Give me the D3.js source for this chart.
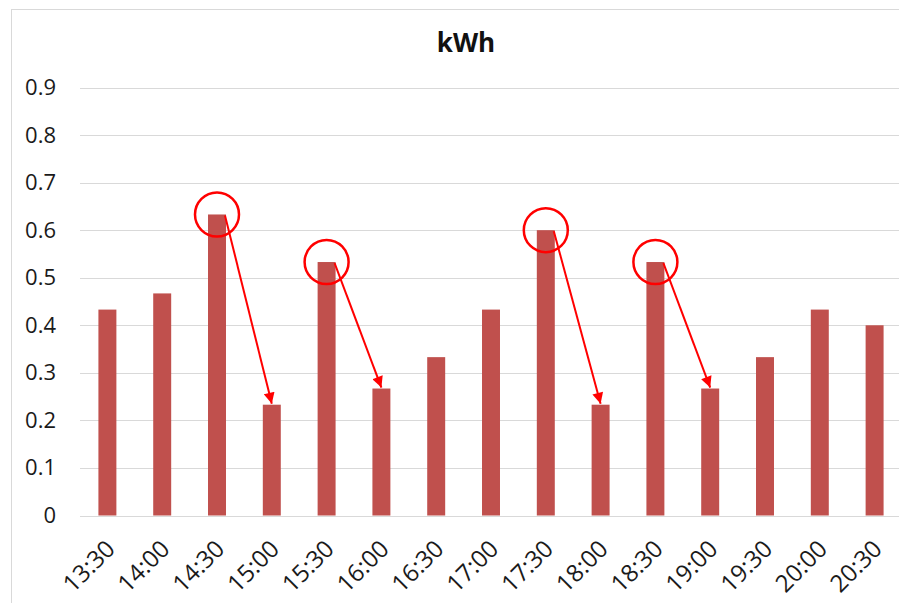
<!DOCTYPE html>
<html>
<head>
<meta charset="utf-8">
<script src="https://cdn.jsdelivr.net/npm/d3@7"></script>
<style>
  html, body { margin: 0; padding: 0; background: #fff; }
  svg { display: block; }
</style>
</head>
<body>
<svg id="chart" width="899" height="603"></svg>
<script>
// Half-hourly energy use
const times = ["13:30","14:00","14:30","15:00","15:30","16:00","16:30","17:00",
               "17:30","18:00","18:30","19:00","19:30","20:00","20:30"];
const kwh = [0.433, 0.467, 0.633, 0.233, 0.533, 0.267, 0.333, 0.433,
             0.6, 0.233, 0.533, 0.267, 0.333, 0.433, 0.4];
const yTicks = [0, 0.1, 0.2, 0.3, 0.4, 0.5, 0.6, 0.7, 0.8, 0.9];
// Peaks that are circled, each followed by an arrow to the drop after it
const peaks = ["14:30", "15:30", "17:30", "18:30"];
const drops = ["15:00", "16:00", "18:00", "19:00"];

const FONT = "'Open Sans', 'Noto Sans', sans-serif";
const svg = d3.select("#chart");

// chart frame
svg.append("rect")
  .attr("x", 11.5).attr("y", 9.5)
  .attr("width", 920).attr("height", 620)
  .attr("fill", "#fff").attr("stroke", "#d9d9d9").attr("stroke-width", 1);

const x = d3.scaleBand().domain(times).range([80, 902])
  .paddingInner(0.672).paddingOuter(0.336);
const y = d3.scaleLinear().domain([0, 0.9]).range([515.5, 87.5]);

// horizontal gridlines
svg.append("g")
  .selectAll("line").data(yTicks).join("line")
  .attr("x1", 80).attr("x2", 902)
  .attr("y1", d => Math.round(y(d)) + 0.5).attr("y2", d => Math.round(y(d)) + 0.5)
  .attr("stroke", "#d9d9d9").attr("stroke-width", 1);

// y axis labels
const yAxis = svg.append("g")
  .attr("transform", "translate(80,0)")
  .call(d3.axisLeft(y).tickValues(yTicks).tickSize(0).tickPadding(24)
    .tickFormat(d => d === 0 ? "0" : d3.format(".1f")(d)));
yAxis.select(".domain").remove();
yAxis.selectAll("text")
  .attr("font-family", FONT).attr("font-size", 22).attr("fill", "#1a1a1a");

// bars
svg.append("g")
  .selectAll("rect").data(times).join("rect")
  .attr("x", d => x(d))
  .attr("width", x.bandwidth())
  .attr("y", (d, i) => y(kwh[i]))
  .attr("height", (d, i) => y(0) - y(kwh[i]))
  .attr("fill", "#c0504d");

// x axis labels, rotated
const xAxis = svg.append("g")
  .attr("transform", `translate(0,${y(0)})`)
  .call(d3.axisBottom(x).tickSize(0).tickPadding(0));
xAxis.select(".domain").remove();
xAxis.selectAll("text")
  .attr("font-family", FONT).attr("font-size", 24).attr("fill", "#1a1a1a")
  .attr("text-anchor", "end")
  .attr("dy", "0.35em")
  .attr("y", 0)
  .attr("transform", "translate(3,29) rotate(-45)");

// annotations: circles on peaks, arrows down to the following drop
const valueOf = t => kwh[times.indexOf(t)];
const cx = t => x(t) + x.bandwidth() / 2;

svg.append("defs").append("marker")
  .attr("id", "head")
  .attr("viewBox", "0 0 10 10")
  .attr("refX", 10).attr("refY", 5)
  .attr("markerWidth", 14).attr("markerHeight", 11)
  .attr("markerUnits", "userSpaceOnUse")
  .attr("orient", "auto")
  .append("path").attr("d", "M0,0 L10,5 L0,10 Z").attr("fill", "#ff0000");

const ann = svg.append("g");
ann.selectAll("circle").data(peaks).join("circle")
  .attr("cx", d => cx(d))
  .attr("cy", d => y(valueOf(d)))
  .attr("r", 22)
  .attr("fill", "none")
  .attr("stroke", "#ff0000")
  .attr("stroke-width", 2.5);

ann.selectAll("line").data(peaks).join("line")
  .attr("x1", d => cx(d) + 8)
  .attr("y1", d => y(valueOf(d)) + 1)
  .attr("x2", (d, i) => cx(drops[i]))
  .attr("y2", (d, i) => y(valueOf(drops[i])) - 1)
  .attr("stroke", "#ff0000")
  .attr("stroke-width", 2)
  .attr("marker-end", "url(#head)");

// title
svg.append("text")
  .attr("x", 466).attr("y", 52)
  .attr("text-anchor", "middle")
  .attr("font-family", FONT).attr("font-size", 26).attr("font-weight", "bold")
  .attr("fill", "#111")
  .text("kWh");
</script>
</body>
</html>
